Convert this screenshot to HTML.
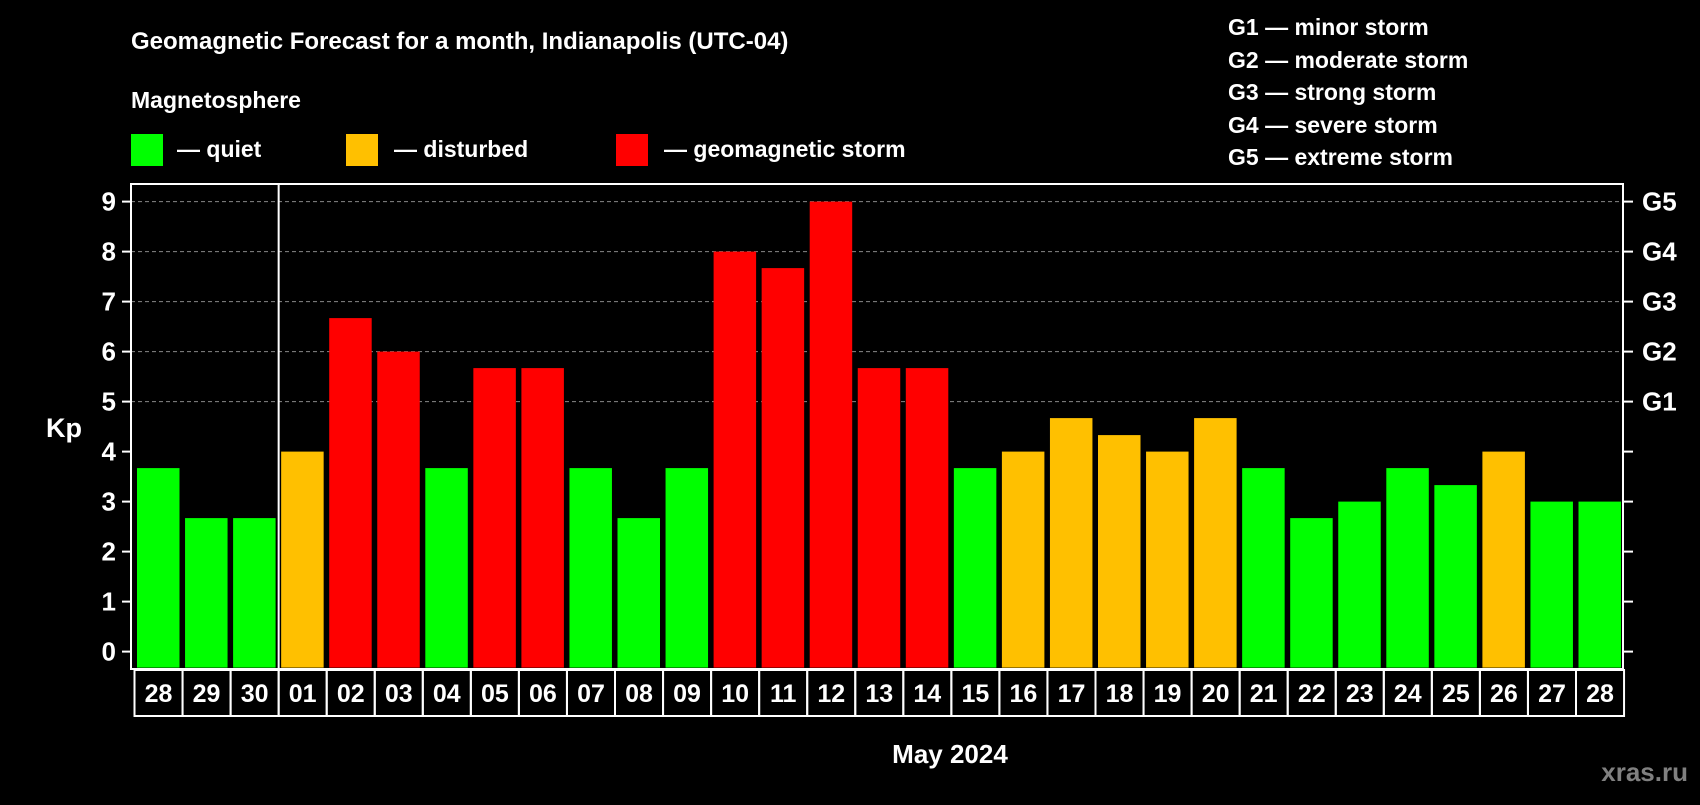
<!DOCTYPE html>
<html><head><meta charset="utf-8"><style>
body{margin:0;background:#000;}
svg text{font-family:"Liberation Sans",Arial,sans-serif;font-weight:bold;fill:#fff;}
</style></head><body>
<svg id="c" width="1700" height="800" xmlns="http://www.w3.org/2000/svg">
<rect width="1700" height="800" fill="#000"/>
<text x="131" y="49" font-size="24">Geomagnetic Forecast for a month, Indianapolis (UTC-04)</text>
<text x="131" y="108" font-size="23">Magnetosphere</text>
<g><rect x="131" y="134" width="32" height="32" fill="#00ff00"/><text x="177" y="157" font-size="23">— quiet</text></g>
<g><rect x="346" y="134" width="32" height="32" fill="#ffc000"/><text x="394" y="157" font-size="23">— disturbed</text></g>
<g><rect x="616" y="134" width="32" height="32" fill="#ff0000"/><text x="664" y="157" font-size="23">— geomagnetic storm</text></g>
<g font-size="23">
<text x="1228" y="35">G1 — minor storm</text>
<text x="1228" y="68">G2 — moderate storm</text>
<text x="1228" y="100">G3 — strong storm</text>
<text x="1228" y="133">G4 — severe storm</text>
<text x="1228" y="165">G5 — extreme storm</text>
</g>
<text x="64" y="437" font-size="27" text-anchor="middle">Kp</text>
<text x="950" y="763" font-size="26" text-anchor="middle">May 2024</text>
<text x="1688" y="781" font-size="26" text-anchor="end" style="fill:#808080">xras.ru</text>
<g id="grid"></g><g id="bars"></g><g id="axes"></g>
</svg>
<script>
const days=["28","29","30","01","02","03","04","05","06","07","08","09","10","11","12","13","14","15","16","17","18","19","20","21","22","23","24","25","26","27","28"];
const kp=[3.67,2.67,2.67,4,6.67,6,3.67,5.67,5.67,3.67,2.67,3.67,8,7.67,9,5.67,5.67,3.67,4,4.67,4.33,4,4.67,3.67,2.67,3,3.67,3.33,4,3,3];
const yTicks=[0,1,2,3,4,5,6,7,8,9];
const gLabels=["","","","","","G1","G2","G3","G4","G5"];
const NS="http://www.w3.org/2000/svg";
const x0=134.5,slot=48.05,bw=42.5;
const y=v=>651.6-v*50;
const xs=i=>x0+i*slot;
function mk(t,a,p){const e=document.createElementNS(NS,t);for(const k in a)e.setAttribute(k,a[k]);p.appendChild(e);return e;}
const grid=document.getElementById('grid'),bars=document.getElementById('bars'),axes=document.getElementById('axes');
yTicks.forEach(v=>{
 if(v>=5){const l=mk('line',{x1:131,x2:1623,y1:y(v),y2:y(v),stroke:'#888','stroke-width':1,'stroke-dasharray':'4,3'},grid);
 
 }
 const t1=mk('line',{x1:122,x2:131,y1:y(v),y2:y(v),stroke:'#fff','stroke-width':2},axes);
 
 
 const t2=mk('line',{x1:1623,x2:1633,y1:y(v),y2:y(v),stroke:'#fff','stroke-width':2},axes);
 
 
 const tl=mk('text',{x:116,y:y(v)+9,'font-size':26,'text-anchor':'end'},axes);tl.textContent=v;
 
 
 if(gLabels[v]){const g=mk('text',{x:1642,y:y(v)+9,'font-size':26},axes);g.textContent=gLabels[v];
 
 }
});
kp.forEach((v,i)=>{
 const c=v>=5?'#ff0000':(v>=4?'#ffc000':'#00ff00');
 const r=mk('rect',{x:xs(i)+2.5,y:y(v),width:bw,height:y(0)+16-y(v),fill:c},bars);
 
 
 const b=mk('rect',{x:xs(i),y:670,width:slot,height:46,fill:'none',stroke:'#fff','stroke-width':2},axes);
 
 
 const t=mk('text',{x:xs(i)+slot/2,y:702,'font-size':25,'text-anchor':'middle'},axes);t.textContent=days[i];
 
 
});
const f=mk('rect',{x:131,y:184,width:1492,height:485,fill:'none',stroke:'#fff','stroke-width':2},axes);


const d=mk('line',{x1:xs(3),x2:xs(3),y1:184,y2:669,stroke:'#fff','stroke-width':2},axes);


</script>
</body></html>
